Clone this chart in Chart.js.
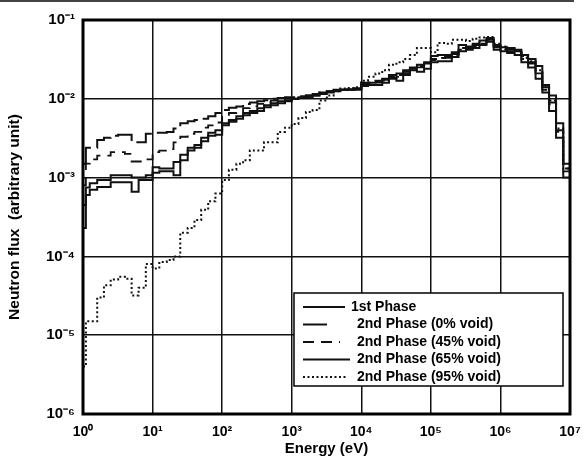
<!DOCTYPE html>
<html>
<head>
<meta charset="utf-8">
<script src="https://cdn.jsdelivr.net/npm/chart.js@4.4.1/dist/chart.umd.min.js"></script>
<style>
  html, body { margin: 0; padding: 0; background: #fff; }
</style>
</head>
<body>
<canvas id="chartFlux" width="584" height="463"></canvas>
<script>
/* group boundaries (eV) */
const energyBounds = [
  1, 1.1, 1.25, 1.6, 2, 2.5, 3.2, 4, 5, 6.3, 8,
  10, 12.5, 16, 20, 25, 32, 40, 50, 63, 80,
  100, 125, 160, 200, 250, 320, 400, 500, 630, 800,
  1e3, 1.25e3, 1.6e3, 2e3, 2.5e3, 3.2e3, 4e3, 5e3, 6.3e3, 8e3,
  1e4, 1.25e4, 1.6e4, 2e4, 2.5e4, 3.2e4, 4e4, 5e4, 6.3e4, 8e4,
  1e5, 1.25e5, 1.6e5, 2e5, 2.5e5, 3.2e5, 4e5, 5e5, 6.3e5, 8e5,
  1e6, 1.25e6, 1.6e6, 2e6, 2.5e6, 3.2e6, 4e6, 5e6, 6.3e6, 8e6,
  1e7,
];

/* group flux, one value per group */
const flux1st = [
  2.3e-4, 6e-4, 7e-4, 7.6e-4, 7.6e-4, 8.7e-4, 8.7e-4, 8.7e-4, 6.6e-4, 9.3e-4, 9.3e-4,
  1.15e-3, 1.2e-3, 1.2e-3, 1.07e-3, 1.66e-3, 2.2e-3, 2.4e-3, 2.9e-3, 3.4e-3, 3.5e-3,
  4.6e-3, 5.1e-3, 5.6e-3, 6.2e-3, 6.6e-3, 7e-3, 7.8e-3, 8.3e-3, 8.8e-3, 9.3e-3,
  1e-2, 1.02e-2, 1.05e-2, 1.1e-2, 1.15e-2, 1.2e-2, 1.25e-2, 1.3e-2, 1.3e-2, 1.3e-2,
  1.45e-2, 1.5e-2, 1.5e-2, 1.6e-2, 1.8e-2, 1.7e-2, 2e-2, 2.3e-2, 2.2e-2, 2.4e-2,
  2.9e-2, 3e-2, 3e-2, 3.4e-2, 4e-2, 4.2e-2, 4.4e-2, 4.8e-2, 5.3e-2, 4.2e-2,
  4.5e-2, 4.4e-2, 4.2e-2, 3.6e-2, 3.2e-2, 2.6e-2, 1.5e-2, 1.1e-2, 4.9e-3, 1.5e-3,
];
const flux0void = [
  1.5e-3, 2.4e-3, 2.4e-3, 3e-3, 3.2e-3, 3.4e-3, 3.5e-3, 3.5e-3, 2.8e-3, 2.8e-3, 3.6e-3,
  3.7e-3, 3.7e-3, 3.8e-3, 4.2e-3, 4.9e-3, 5.2e-3, 5.4e-3, 5.6e-3, 6e-3, 6.6e-3,
  7.2e-3, 7.7e-3, 8e-3, 8.6e-3, 9e-3, 9.3e-3, 9.6e-3, 1e-2, 1.02e-2, 1.05e-2,
  1.05e-2, 1.08e-2, 1.1e-2, 1.15e-2, 1.2e-2, 1.25e-2, 1.28e-2, 1.3e-2, 1.32e-2, 1.35e-2,
  1.55e-2, 1.6e-2, 1.65e-2, 1.75e-2, 1.9e-2, 2e-2, 2.2e-2, 2.4e-2, 2.6e-2, 2.8e-2,
  3.2e-2, 3.3e-2, 3.4e-2, 3.7e-2, 4.4e-2, 4.4e-2, 4.8e-2, 5.2e-2, 5.6e-2, 4.6e-2,
  4.3e-2, 4.2e-2, 4e-2, 3.3e-2, 2.9e-2, 2.2e-2, 1.4e-2, 9e-3, 4e-3, 1.3e-3,
];
const flux45void = [
  8e-4, 1.5e-3, 1.7e-3, 1.9e-3, 1.9e-3, 2.1e-3, 2.1e-3, 2e-3, 1.6e-3, 1.6e-3, 1.7e-3,
  2.1e-3, 2.2e-3, 2.3e-3, 2.8e-3, 3.3e-3, 3.6e-3, 3.8e-3, 4.3e-3, 4.6e-3, 5e-3,
  5.9e-3, 6.6e-3, 7e-3, 7.6e-3, 8e-3, 8.6e-3, 9e-3, 9.5e-3, 1e-2, 1.02e-2,
  1.03e-2, 1.05e-2, 1.08e-2, 1.12e-2, 1.18e-2, 1.22e-2, 1.27e-2, 1.3e-2, 1.3e-2, 1.33e-2,
  1.5e-2, 1.55e-2, 1.6e-2, 1.7e-2, 1.85e-2, 1.9e-2, 2.1e-2, 2.4e-2, 2.5e-2, 2.7e-2,
  3.1e-2, 3.3e-2, 3.3e-2, 3.6e-2, 4.2e-2, 4.4e-2, 4.6e-2, 5e-2, 5.5e-2, 4.5e-2,
  4.2e-2, 4e-2, 3.9e-2, 3.2e-2, 2.8e-2, 2.1e-2, 1.3e-2, 8.5e-3, 3.8e-3, 1.2e-3,
];
const flux65void = [
  4.5e-4, 7.5e-4, 8.5e-4, 9.3e-4, 9.3e-4, 1.07e-3, 1.07e-3, 1.07e-3, 1e-3, 1e-3, 1.07e-3,
  1.35e-3, 1.3e-3, 1.3e-3, 1.58e-3, 1.95e-3, 2.4e-3, 2.6e-3, 3.2e-3, 3.7e-3, 4e-3,
  4.9e-3, 5.4e-3, 6e-3, 6.6e-3, 7e-3, 7.6e-3, 8.3e-3, 8.8e-3, 9.3e-3, 9.6e-3,
  1e-2, 1.05e-2, 1.1e-2, 1.1e-2, 1.2e-2, 1.25e-2, 1.3e-2, 1.3e-2, 1.32e-2, 1.35e-2,
  1.6e-2, 1.6e-2, 1.7e-2, 1.8e-2, 2e-2, 2.1e-2, 2.3e-2, 2.5e-2, 2.7e-2, 2.9e-2,
  3.5e-2, 3.6e-2, 3.6e-2, 3.9e-2, 4.8e-2, 4.6e-2, 5e-2, 5.5e-2, 5.9e-2, 4.8e-2,
  4e-2, 3.8e-2, 3.6e-2, 2.9e-2, 2.5e-2, 1.8e-2, 1.2e-2, 7e-3, 3.2e-3, 1e-3,
];
const flux95void = [
  4e-6, 1.5e-5, 1.5e-5, 3e-5, 4.3e-5, 5.1e-5, 5.5e-5, 5.2e-5, 3.2e-5, 4e-5, 8e-5,
  7e-5, 8.5e-5, 9e-5, 1e-4, 2e-4, 2.3e-4, 2.9e-4, 3.9e-4, 5e-4, 6.3e-4,
  9.3e-4, 1.26e-3, 1.5e-3, 1.66e-3, 2.2e-3, 2.2e-3, 2.8e-3, 2.8e-3, 3.8e-3, 4.3e-3,
  4.8e-3, 5.7e-3, 6.8e-3, 7.2e-3, 9.5e-3, 1.1e-2, 1.25e-2, 1.35e-2, 1.37e-2, 1.4e-2,
  1.7e-2, 1.9e-2, 2.1e-2, 2.3e-2, 2.7e-2, 2.9e-2, 3.2e-2, 3.6e-2, 4.4e-2, 4.4e-2,
  3.9e-2, 5.1e-2, 5e-2, 5.6e-2, 5.6e-2, 5.4e-2, 5.8e-2, 6e-2, 6.1e-2, 5e-2,
  4.6e-2, 4.3e-2, 4.1e-2, 3.5e-2, 3e-2, 2.3e-2, 1.4e-2, 9.5e-3, 4.2e-3, 1.3e-3,
];

const seriesLabels = [
  '1st Phase',
  '2nd Phase (0% void)',
  '2nd Phase (45% void)',
  '2nd Phase (65% void)',
  '2nd Phase (95% void)',
];

const xTicks = [1, 10, 100, 1e3, 1e4, 1e5, 1e6, 1e7];
const xTickLabels = ['10⁰', '10¹', '10²', '10³', '10⁴', '10⁵', '10⁶', '10⁷'];
const yTicks = [1e-6, 1e-5, 1e-4, 1e-3, 1e-2, 1e-1];
const yTickLabels = ['10⁻⁶', '10⁻⁵', '10⁻⁴', '10⁻³', '10⁻²', '10⁻¹'];

const FONT = 'Arial, "Liberation Sans", sans-serif';

/* step points: each group value starts at its lower boundary */
const toSteps = flux => energyBounds.map((e, i) => ({ x: e, y: flux[Math.min(i, flux.length - 1)] }));

const styles = [
  { dash: [],       width: 2,   sample: 42 },
  { dash: [24, 6],  width: 2,   sample: 28 },
  { dash: [11, 7],  width: 1.8, sample: 37 },
  { dash: [],       width: 2,   sample: 47 },
  { dash: [2, 2.5], width: 2,   sample: 45 },
];

const datasets = [flux1st, flux0void, flux45void, flux65void, flux95void].map((f, i) => ({
  label: seriesLabels[i],
  data: toSteps(f),
  borderColor: '#111',
  borderWidth: styles[i].width,
  borderDash: styles[i].dash,
  stepped: true,
  pointRadius: 0,
  fill: false,
}));

/* frame + legend box inside the plot */
const framePlugin = {
  id: 'frame',
  afterDatasetsDraw(chart) {
    const { ctx, chartArea: a } = chart;
    ctx.save();
    ctx.strokeStyle = '#000';
    ctx.lineWidth = 3;
    ctx.setLineDash([]);
    ctx.strokeRect(a.left, a.top, a.right - a.left, a.bottom - a.top);

    // scan edge at the very top
    ctx.strokeStyle = '#444';
    ctx.lineWidth = 2;
    ctx.beginPath(); ctx.moveTo(0, 1); ctx.lineTo(574, 1); ctx.stroke();

    // legend
    const bx = a.right - 276, by = a.bottom - 121, bw = 269, bh = 93;
    ctx.fillStyle = '#fff';
    ctx.fillRect(bx, by, bw, bh);
    ctx.strokeStyle = '#000';
    ctx.lineWidth = 1.5;
    ctx.strokeRect(bx, by, bw, bh);
    ctx.font = 'bold 14px ' + FONT;
    ctx.textBaseline = 'middle';
    chart.data.datasets.forEach((ds, i) => {
      const y = by + 14 + i * 17.5;
      ctx.strokeStyle = '#111';
      ctx.lineWidth = ds.borderWidth;
      ctx.setLineDash(ds.borderDash);
      ctx.beginPath();
      ctx.moveTo(bx + 9, y);
      ctx.lineTo(bx + 9 + styles[i].sample, y);
      ctx.stroke();
      ctx.fillStyle = '#000';
      ctx.fillText(ds.label, bx + (i === 0 ? 57 : 63), y);
    });
    ctx.restore();
  },
};

new Chart(document.getElementById('chartFlux'), {
  type: 'line',
  data: { datasets },
  options: {
    responsive: false,
    animation: false,
    layout: { padding: { top: 20, right: 14, left: 0, bottom: 0 } },
    plugins: { legend: { display: false }, tooltip: { enabled: false } },
    scales: {
      x: {
        type: 'logarithmic',
        min: 1, max: 1e7,
        afterBuildTicks: s => { s.ticks = xTicks.map(v => ({ value: v })); },
        afterFit: s => { s.height = 49; s.paddingLeft = 0; s.paddingRight = 0; },
        grid: { color: '#111', lineWidth: 1.5, drawTicks: false },
        border: { display: false },
        ticks: {
          color: '#000', padding: 10, maxRotation: 0, autoSkip: false,
          font: { family: FONT, size: 14, weight: 'bold' },
          callback: (v, i) => xTickLabels[i],
        },
        title: {
          display: true, text: 'Energy (eV)', color: '#000',
          font: { family: FONT, size: 15, weight: 'bold', lineHeight: 1 },
          padding: { top: 6.5, bottom: 6.5 },
        },
      },
      y: {
        type: 'logarithmic',
        min: 1e-6, max: 1e-1,
        afterBuildTicks: s => { s.ticks = yTicks.map(v => ({ value: v })); },
        afterFit: s => { s.width = 83; },
        grid: { color: '#111', lineWidth: 1.5, drawTicks: false },
        border: { display: false },
        ticks: {
          color: '#000', padding: 8, autoSkip: false,
          font: { family: FONT, size: 15, weight: 'bold' },
          callback: (v, i) => yTickLabels[i],
        },
        title: {
          display: true, text: 'Neutron flux  (arbitrary unit)', color: '#000',
          font: { family: FONT, size: 15.5, weight: 'bold', lineHeight: 1 },
          padding: { top: 7, bottom: 0 },
        },
      },
    },
  },
  plugins: [framePlugin],
});
</script>
</body>
</html>
